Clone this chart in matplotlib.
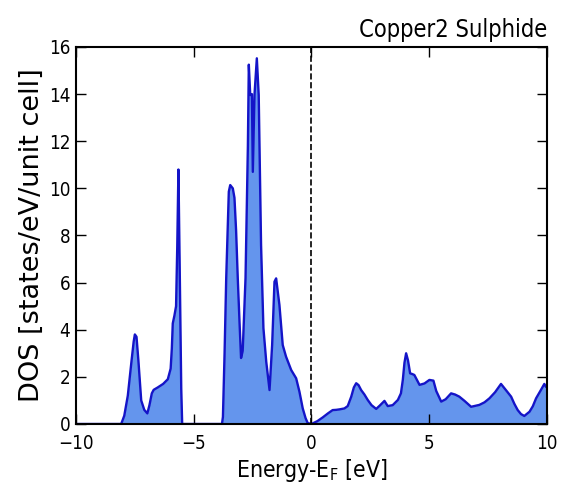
import numpy as np
import matplotlib
matplotlib.use("Agg")
import matplotlib.pyplot as plt

# total density of states, energies relative to the Fermi level
energy = [-10.0, -8.08, -7.95, -7.8, -7.65, -7.55, -7.5, -7.43, -7.35, -7.23,
          -7.1, -6.97, -6.88, -6.78, -6.7, -6.53, -6.3, -6.1, -5.98, -5.93,
          -5.89, -5.82, -5.75, -5.7, -5.65, -5.6, -5.53, -5.49, -3.8,
          -3.76, -3.69, -3.62, -3.51, -3.45, -3.34, -3.27, -3.2, -3.13, -3.05,
          -2.99, -2.92, -2.8, -2.7, -2.66, -2.6, -2.53, -2.49, -2.42, -2.32,
          -2.24, -2.14, -2.04, -1.92, -1.78, -1.67, -1.57, -1.5, -1.36, -1.22,
          -1.08, -0.86, -0.65, -0.51, -0.37, -0.25, -0.16, 0.0,
          0.25, 0.48, 0.7, 0.9, 1.05, 1.19, 1.4, 1.54, 1.69, 1.8, 1.9, 2.0,
          2.11, 2.25, 2.39, 2.55, 2.75, 2.9, 3.1, 3.24, 3.45, 3.67, 3.8, 3.88,
          3.95, 4.02, 4.1, 4.19, 4.28, 4.37, 4.59, 4.8, 5.01, 5.18, 5.3, 5.51,
          5.7, 5.93, 6.1, 6.28, 6.5, 6.78, 7.13, 7.35, 7.56, 7.8, 8.05, 8.25,
          8.48, 8.62, 8.76, 8.9, 9.04, 9.26, 9.4, 9.54, 9.72, 9.89, 9.96, 10.0]
dos = [0.0, 0.0, 0.35, 1.2, 2.6, 3.5, 3.8, 3.7, 2.7, 1.0,
       0.6, 0.45, 0.8, 1.3, 1.45, 1.55, 1.7, 1.9, 2.35, 3.2,
       4.27, 4.6, 5.0, 7.5, 10.8, 7.0, 1.5, 0.0, 0.0,
       0.3, 3.0, 6.2, 9.86, 10.14, 10.0, 9.6, 8.2, 6.2, 4.2,
       2.8, 3.1, 6.2, 11.8, 15.25, 13.96, 14.0, 10.7, 13.96, 15.52,
       13.96, 7.6, 4.07, 2.64, 1.44, 3.35, 6.04, 6.18, 5.05, 3.35,
       2.86, 2.29, 1.94, 1.37, 0.66, 0.25, 0.04, 0.0,
       0.12, 0.28, 0.45, 0.59, 0.6, 0.62, 0.66, 0.76, 1.16, 1.55, 1.73, 1.65,
       1.44, 1.25, 1.02, 0.8, 0.64, 0.78, 0.98, 0.76, 0.8, 1.02, 1.3, 1.87,
       2.6, 3.0, 2.7, 2.15, 2.12, 2.08, 1.66, 1.72, 1.87, 1.84, 1.4, 0.95,
       1.05, 1.3, 1.25, 1.16, 0.98, 0.73, 0.81, 0.92, 1.09, 1.35, 1.7, 1.45,
       1.16, 0.85, 0.59, 0.42, 0.34, 0.52, 0.75, 1.09, 1.4, 1.7, 1.58, 1.55]

plt.rcParams["font.family"] = "DejaVu Sans"
plt.rcParams["font.stretch"] = "condensed"

fig = plt.figure(figsize=(5.65, 4.86), dpi=100)
ax = fig.add_axes([0.1345, 0.1276, 0.8335, 0.7757])

ax.fill_between(energy, 0, dos, color="#6495ed", linewidth=0)
ax.plot(energy, dos, color="#1414c8", linewidth=1.7)
ax.axvline(0, color="black", linestyle="--", linewidth=1.2)

ax.set_xlim(-10, 10)
ax.set_ylim(0, 16)
ax.set_xticks([-10, -5, 0, 5, 10])
ax.set_xticklabels(["\u221210", "\u22125", "0", "5", "10"])
ax.set_yticks(np.arange(0, 17, 2))
ax.tick_params(direction="in", top=True, right=True, length=7, width=1,
               labelsize=13.5)
ax.tick_params(axis="x", pad=7)
ax.tick_params(axis="y", pad=4)
for s in ax.spines.values():
    s.set_linewidth(1.5)

ax.set_xlabel("Energy-E$_\\mathrm{F}$ [eV]", fontsize=16.5, labelpad=3)
ax.set_ylabel("DOS [states/eV/unit cell]", fontsize=19.5, labelpad=3,
              fontstretch="normal")
ax.set_title("Copper2 Sulphide", loc="right", fontsize=17, pad=7)

fig.savefig("out.png", dpi=100)
